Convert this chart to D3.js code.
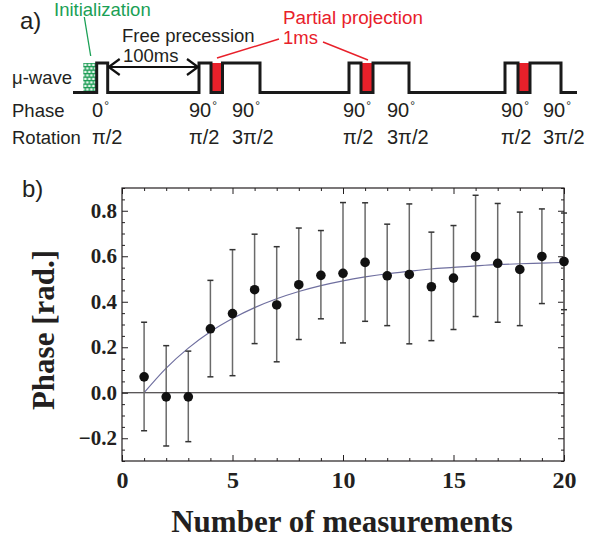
<!DOCTYPE html>
<html>
<head>
<meta charset="utf-8">
<script src="https://cdn.jsdelivr.net/npm/d3@7"></script>
<style>
  html, body { margin: 0; padding: 0; background: #fff; }
  svg { display: block; }
</style>
</head>
<body>
<svg id="chart" width="589" height="542"></svg>
<script>
// ---------------- data (panel b) ----------------
const measurements = [1,2,3,4,5,6,7,8,9,10,11,12,13,14,15,16,17,18,19,20];
const phase   = [0.070,-0.018,-0.018,0.281,0.348,0.453,0.386,0.475,0.516,0.525,0.573,0.514,0.520,0.466,0.504,0.599,0.569,0.542,0.599,0.577];
const errLow  = [-0.167,-0.234,-0.215,0.070,0.075,0.216,0.136,0.234,0.325,0.219,0.314,0.295,0.215,0.229,0.278,0.335,0.310,0.295,0.392,0.365];
const errHigh = [0.310,0.207,0.183,0.494,0.629,0.697,0.642,0.724,0.713,0.836,0.835,0.741,0.830,0.706,0.735,0.868,0.832,0.794,0.808,0.790];
const fitX = [1,2,3,4,5,6,7,8,9,10,11,12,13,14,15,16,17,18,19,20];
const fitY = [0.000,0.108,0.196,0.268,0.326,0.374,0.413,0.445,0.471,0.492,0.509,0.523,0.534,0.544,0.551,0.558,0.563,0.567,0.570,0.573];
const xMajorTicks = [0,5,10,15,20];
const yMajorTicks = [-0.2,0,0.2,0.4,0.6,0.8];

// ---------------- data (panel a, schematic timeline) ----------------
// pulse groups: [pulse start, projection start, projection end, pulse end]
const pulseGroups = [[199,211,222.5,260],[349,361,373,409],[505,518,530,561]];
const initPulse = [96.7,107.7];
const initBox = [83.3,96.7];
const lineStart = 73, lineEnd = 577;
const phaseLabels = ["0","90","90","90","90","90","90"];
const rotationLabels = ["π/2","π/2","3π/2","π/2","3π/2","π/2","3π/2"];
const labelPos = [92,189,232,343,387,501,543];

const svg = d3.select("#chart");
const SANS = "'Liberation Sans', Arial, sans-serif";
const SERIF = "'Liberation Serif', 'Times New Roman', serif";

// ================= panel a =================
const tX = d3.scaleLinear().domain([0,589]).range([0,589]);
const lowY = 92.5, highY = 63;
const gA = svg.append("g");

// pattern for init box
const defs = svg.append("defs");
const pat = defs.append("pattern").attr("id","brick").attr("patternUnits","userSpaceOnUse")
  .attr("width",8).attr("height",7).attr("x",83.3).attr("y",63);
pat.append("rect").attr("width",8).attr("height",7).attr("fill","#1f9e57");
pat.append("rect").attr("x",0.8).attr("y",0.8).attr("width",2.6).attr("height",2.2).attr("fill","#e6f5ec");
pat.append("rect").attr("x",4.8).attr("y",0.8).attr("width",2.6).attr("height",2.2).attr("fill","#e6f5ec");
pat.append("rect").attr("x",-1.2).attr("y",4.3).attr("width",2.6).attr("height",2.2).attr("fill","#e6f5ec");
pat.append("rect").attr("x",2.8).attr("y",4.3).attr("width",2.6).attr("height",2.2).attr("fill","#e6f5ec");
pat.append("rect").attr("x",6.8).attr("y",4.3).attr("width",2.6).attr("height",2.2).attr("fill","#e6f5ec");

gA.append("rect").attr("x",tX(initBox[0])).attr("y",highY).attr("width",tX(initBox[1])-tX(initBox[0]))
  .attr("height",lowY-highY).attr("fill","url(#brick)");

// red projection boxes
gA.selectAll("rect.proj").data(pulseGroups).join("rect").attr("class","proj")
  .attr("x",d=>tX(d[1])).attr("y",highY).attr("width",d=>tX(d[2])-tX(d[1])).attr("height",lowY-highY)
  .attr("fill","#e8202a");

// waveform path
const pts = [[lineStart,lowY],[initPulse[0],lowY],[initPulse[0],highY],[initPulse[1],highY],[initPulse[1],lowY]];
pulseGroups.forEach(g=>{
  pts.push([g[0],lowY],[g[0],highY],[g[1],highY],[g[1],lowY],[g[2],lowY],[g[2],highY],[g[3],highY],[g[3],lowY]);
});
pts.push([lineEnd,lowY]);
gA.append("path").attr("d",d3.line().x(d=>tX(d[0])).y(d=>d[1])(pts))
  .attr("fill","none").attr("stroke","#1a1a1a").attr("stroke-width",3).attr("stroke-linejoin","miter");

// double arrow
const arrY = 67;
const ax1 = tX(initPulse[1])+1, ax2 = tX(pulseGroups[0][0])-1;
gA.append("line").attr("x1",ax1).attr("x2",ax2).attr("y1",arrY).attr("y2",arrY).attr("stroke","#111").attr("stroke-width",2.2);
gA.append("path").attr("d",`M${ax1+11},${arrY-8} L${ax1},${arrY} L${ax1+11},${arrY+8}`).attr("fill","none").attr("stroke","#111").attr("stroke-width",2.2);
gA.append("path").attr("d",`M${ax2-11},${arrY-8} L${ax2},${arrY} L${ax2-11},${arrY+8}`).attr("fill","none").attr("stroke","#111").attr("stroke-width",2.2);

// pointer lines
gA.append("line").attr("x1",84.3).attr("y1",17).attr("x2",90.7).attr("y2",56).attr("stroke","#1aa055").attr("stroke-width",1.3);
gA.append("line").attr("x1",279).attr("y1",39).attr("x2",217).attr("y2",58).attr("stroke","#e8202a").attr("stroke-width",1.5);
gA.append("line").attr("x1",323).attr("y1",42).attr("x2",368).attr("y2",60).attr("stroke","#e8202a").attr("stroke-width",1.5);

function txt(x,y,s,size,fill,anchor){
  return gA.append("text").attr("x",x).attr("y",y).text(s).attr("font-family",SANS)
    .attr("font-size",size).attr("fill",fill||"#231f20").attr("text-anchor",anchor||"start");
}
txt(20,29,"a)",24);
txt(54,16,"Initialization",18.5,"#1aa055");
txt(122,42,"Free precession",18.5);
txt(123,61.5,"100ms",18.5);
txt(283,24,"Partial projection",18.8,"#e8202a");
txt(283,44,"1ms",18.5,"#e8202a");
txt(12,84,"μ-wave",18.5);
txt(12,117,"Phase",18.5);
txt(12,144,"Rotation",18.5);

gA.selectAll("text.ph").data(phaseLabels).join("text").attr("class","ph")
  .attr("x",(d,i)=>labelPos[i]).attr("y",117).attr("font-family",SANS).attr("font-size",20).attr("fill","#231f20")
  .each(function(d){
    const t = d3.select(this);
    t.append("tspan").text(d);
    t.append("tspan").text("°").attr("font-size",12).attr("dy",-7).attr("dx",1);
  });
gA.selectAll("text.rot").data(rotationLabels).join("text").attr("class","rot")
  .attr("x",(d,i)=>labelPos[i]).attr("y",144).attr("font-family",SANS).attr("font-size",20).attr("fill","#231f20")
  .text(d=>d);

// ================= panel b =================
const L = 122, R = 564, T = 188, B = 461;
const x = d3.scaleLinear().domain([0,20]).range([L,R]);
const y = d3.scaleLinear().domain([-0.3,0.9]).range([B,T]);
const gB = svg.append("g");

svg.append("text").attr("x",22).attr("y",197).text("b)").attr("font-family",SANS).attr("font-size",24).attr("fill","#231f20");

const xMinor = d3.range(0,21,1).filter(v=>!xMajorTicks.includes(v));
const yMinor = d3.range(-6,19).map(v=>+(v*0.05).toFixed(2)).filter(v=>!yMajorTicks.some(m=>Math.abs(m-v)<1e-6));

function styleAxis(g){
  g.select(".domain").remove();
  g.selectAll(".tick line").attr("stroke","#231f20").attr("stroke-width",1);
}
// bottom
gB.append("g").attr("transform",`translate(0,${B})`)
  .call(d3.axisBottom(x).tickValues(xMajorTicks).tickSize(-6).tickPadding(10).tickFormat(d3.format("d")))
  .call(styleAxis)
  .call(g=>g.selectAll("text").attr("font-family",SERIF).attr("font-weight","bold").attr("font-size",24).attr("fill","#231f20"));
gB.append("g").attr("transform",`translate(0,${B})`).call(d3.axisBottom(x).tickValues(xMinor).tickSize(-3).tickFormat("")).call(styleAxis);
// top
gB.append("g").attr("transform",`translate(0,${T})`).call(d3.axisTop(x).tickValues(xMajorTicks).tickSize(-6).tickFormat("")).call(styleAxis);
gB.append("g").attr("transform",`translate(0,${T})`).call(d3.axisTop(x).tickValues(xMinor).tickSize(-3).tickFormat("")).call(styleAxis);
// left
gB.append("g").attr("transform",`translate(${L},0)`)
  .call(d3.axisLeft(y).tickValues(yMajorTicks).tickSize(-6).tickPadding(5).tickFormat(d3.format(".1f")))
  .call(styleAxis)
  .call(g=>g.selectAll("text").attr("font-family",SERIF).attr("font-weight","bold").attr("font-size",21).attr("fill","#231f20"));
gB.append("g").attr("transform",`translate(${L},0)`).call(d3.axisLeft(y).tickValues(yMinor).tickSize(-3).tickFormat("")).call(styleAxis);
// right
gB.append("g").attr("transform",`translate(${R},0)`).call(d3.axisRight(y).tickValues(yMajorTicks).tickSize(-6).tickFormat("")).call(styleAxis);
gB.append("g").attr("transform",`translate(${R},0)`).call(d3.axisRight(y).tickValues(yMinor).tickSize(-3).tickFormat("")).call(styleAxis);

// frame
gB.append("rect").attr("x",L).attr("y",T).attr("width",R-L).attr("height",B-T).attr("fill","none").attr("stroke","#231f20").attr("stroke-width",1.2);
// zero line
gB.append("line").attr("x1",L).attr("x2",R).attr("y1",y(0)).attr("y2",y(0)).attr("stroke","#231f20").attr("stroke-width",1.1);

// fit curve
const fitData = fitX.map((v,i)=>[v,fitY[i]]);
gB.append("path").datum(fitData)
  .attr("d",d3.line().x(d=>x(d[0])).y(d=>y(d[1])).curve(d3.curveMonotoneX))
  .attr("fill","none").attr("stroke","#6f6f9f").attr("stroke-width",1.2);

// error bars
const data = measurements.map((m,i)=>({m, v:phase[i], lo:errLow[i], hi:errHigh[i]}));
const eb = gB.append("g").attr("stroke","#6a6a6a").attr("stroke-width",1.5);
eb.selectAll("line.v").data(data).join("line").attr("class","v")
  .attr("x1",d=>x(d.m)).attr("x2",d=>x(d.m)).attr("y1",d=>y(d.lo)).attr("y2",d=>y(d.hi));
eb.selectAll("line.cl").data(data).join("line").attr("class","cl")
  .attr("x1",d=>x(d.m)-3).attr("x2",d=>x(d.m)+3).attr("y1",d=>y(d.lo)).attr("y2",d=>y(d.lo)).attr("stroke","#333");
eb.selectAll("line.ch").data(data).join("line").attr("class","ch")
  .attr("x1",d=>x(d.m)-3).attr("x2",d=>x(d.m)+3).attr("y1",d=>y(d.hi)).attr("y2",d=>y(d.hi)).attr("stroke","#333");

// points
gB.selectAll("circle.pt").data(data).join("circle").attr("class","pt")
  .attr("cx",d=>x(d.m)).attr("cy",d=>y(d.v)).attr("r",4.8).attr("fill","#111");

// axis titles
svg.append("text").attr("transform",`translate(54,${330}) rotate(-90)`).attr("text-anchor","middle")
  .attr("font-family",SERIF).attr("font-weight","bold").attr("font-size",31).attr("fill","#231f20")
  .text("Phase [rad.]");
svg.append("text").attr("x",342).attr("y",532).attr("text-anchor","middle")
  .attr("font-family",SERIF).attr("font-weight","bold").attr("font-size",31).attr("fill","#231f20")
  .text("Number of measurements");
</script>
</body>
</html>
